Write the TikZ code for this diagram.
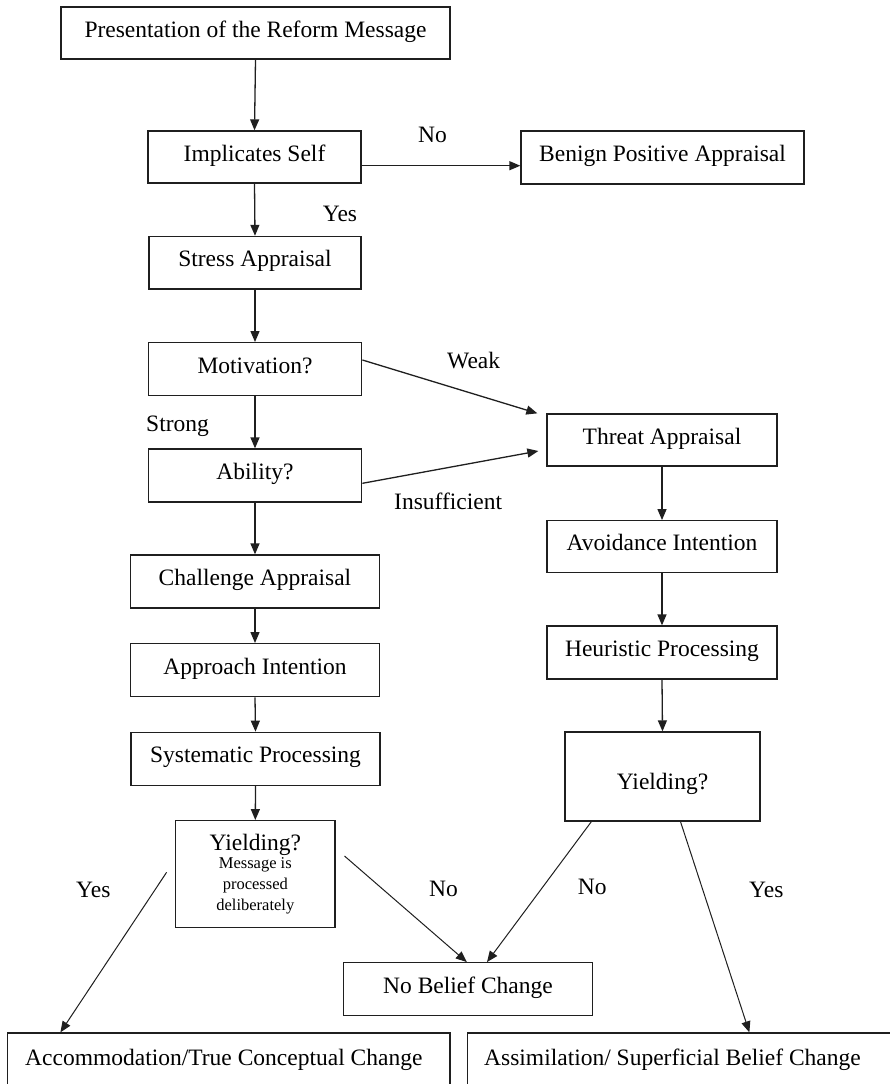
\documentclass[tikz,border=0pt]{standalone}
\usepackage{fontspec}
\setmainfont{Liberation Serif}
\usetikzlibrary{arrows.meta,calc}
\begin{document}
\begin{tikzpicture}[x=1pt,y=-1pt,
  box/.style={draw=black!88, line width=1.3pt, inner sep=0pt, font=\fontsize{23.5}{28}\selectfont, text height=15pt, text depth=7pt},
  lbl/.style={anchor=base west, inner sep=0pt, font=\fontsize{23.5}{28}\selectfont},
  txt/.style={anchor=base west, inner sep=0pt, font=\fontsize{23.5}{28}\selectfont},
  arr/.style={draw=black!88, line width=1.3pt, -{Triangle[length=11pt,width=9pt]}},
  darr/.style={draw=black!88, line width=1pt, -{Triangle[length=11pt,width=9pt]}}]
\useasboundingbox (0,0) rectangle (890,1084);

% boxes
\node[box, minimum width=389pt, minimum height=52pt] (pres) at (255.5,33) {Presentation of the Reform Message};
\node[box, minimum width=213pt, minimum height=52pt] (impl) at (254.5,157) {Implicates Self};
\node[box, minimum width=283pt, minimum height=53pt] (benign) at (662.5,157.5) {Benign Positive Appraisal};
\node[box, minimum width=212pt, minimum height=52.5pt] (stress) at (255,262.7) {Stress Appraisal};
\node[box, minimum width=213.5pt, minimum height=53pt] (motiv) at (255,369.2) {Motivation?};
\node[box, minimum width=213.5pt, minimum height=53pt] (ability) at (255,475.5) {Ability?};
\node[box, minimum width=230pt, minimum height=52pt] (threat) at (662,440) {Threat Appraisal};
\node[box, minimum width=230pt, minimum height=52pt] (avoid) at (662,546.7) {Avoidance Intention};
\node[box, minimum width=230pt, minimum height=53pt] (heur) at (662,652.5) {Heuristic Processing};
\node[box, minimum width=195pt, minimum height=89pt, text height=30pt, text depth=5pt] (yieldR) at (662.5,776.5) {Yielding?};
\node[box, minimum width=248.5pt, minimum height=53pt] (challenge) at (255,581.5) {Challenge Appraisal};
\node[box, minimum width=248.5pt, minimum height=53pt] (approach) at (255,670.2) {Approach Intention};
\node[box, minimum width=249pt, minimum height=53pt] (system) at (255.5,758.8) {Systematic Processing};
\node[draw=black!88, line width=1.3pt, inner sep=0pt, minimum width=159.3pt, minimum height=106.6pt, align=center, font=\fontsize{16.5}{21}\selectfont] (yieldL) at (255.3,874) {{\fontsize{23.5}{28}\selectfont Yielding?}\\[-3pt]Message is\\processed\\deliberately};
\node[box, minimum width=248.4pt, minimum height=53pt] (nobelief) at (468,989.2) {No Belief Change};
\node[box, minimum width=442.7pt, minimum height=57pt] (accom) at (228.7,1061.5) {};
\node[box, minimum width=432.2pt, minimum height=57pt] (assim) at (683.9,1061.5) {};
\node[txt] (accomtext) at (25,1065) {Accommodation/True Conceptual Change};
\node[txt] (assimtext) at (484,1065) {Assimilation/ Superficial Belief Change};

% labels
\node[lbl] (lno1) at (418,142) {No};
\node[lbl] (lyes1) at (322.7,221) {Yes};
\node[lbl] (lweak) at (447,368.5) {Weak};
\node[lbl] (lstrong) at (146,431.7) {Strong};
\node[lbl] (linsuf) at (394,509) {Insufficient};
\node[lbl] (lyes2) at (76,897.5) {Yes};
\node[lbl] (lno2) at (429,896.7) {No};
\node[lbl] (lno3) at (577.6,894.5) {No};
\node[lbl] (lyes3) at (749,897.5) {Yes};

% connectors
\draw[arr] (pres.south) -- (impl.north);
\draw[arr] ($(impl.east)+(0,8.7)$) -- ($(benign.west)+(0,8.2)$);
\draw[arr] (impl.south) -- (stress.north);
\draw[arr] (stress.south) -- (motiv.north);
\draw[arr] (motiv.south) -- (ability.north);
\draw[arr] ($(motiv.east)+(0,-9.2)$) -- ($(threat.north west)+(-9,0)$);
\draw[arr] ($(ability.east)+(0,7.8)$) -- ($(threat.west)+(-8,11)$);
\draw[arr] (ability.south) -- (challenge.north);
\draw[arr] (challenge.south) -- (approach.north);
\draw[arr] (approach.south) -- (system.north);
\draw[arr] (system.south) -- (yieldL.north);
\draw[arr] (threat.south) -- (avoid.north);
\draw[arr] (avoid.south) -- (heur.north);
\draw[arr] (heur.south) -- (yieldR.north);
\draw[darr] ($(yieldL.west)+(-8.4,-1.7)$) -- ($(accom.north west)+(53.7,0)$);
\draw[darr] ($(yieldL.east)+(8.9,-18)$) -- ($(nobelief.north)+(-1.2,0)$);
\draw[darr] ($(yieldR.south west)+(27,0)$) -- ($(nobelief.north)+(19,0)$);
\draw[darr] ($(yieldR.south)+(18,0)$) -- ($(assim.north west)+(282.2,0)$);
\end{tikzpicture}
\end{document}
